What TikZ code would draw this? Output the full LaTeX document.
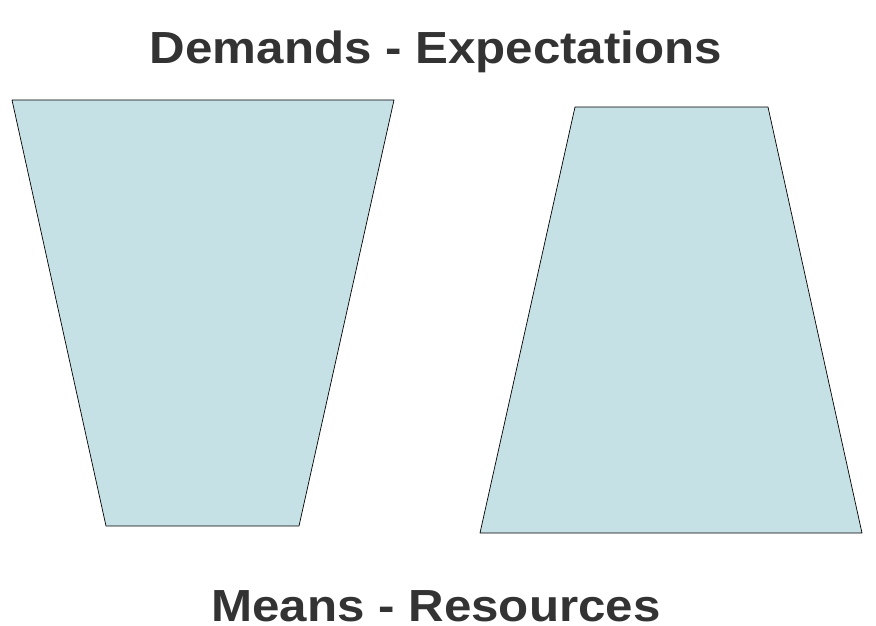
\documentclass[tikz,border=0pt]{standalone}
\usepackage{fontspec}
\setmainfont{Liberation Sans}
\usetikzlibrary{positioning}
\definecolor{cupfill}{HTML}{C5E1E5}
\definecolor{titlegray}{HTML}{333333}
\newcommand{\widetext}[1]{\scalebox{1.095}[1]{#1}}

\begin{document}
\begin{tikzpicture}[x=1pt,y=-1pt,
    cup/.style = {draw=black, line width=.7pt, fill=cupfill, line join=round},
    heading/.style = {font=\fontsize{45}{50}\selectfont\bfseries, text=titlegray, anchor=base, inner sep=0pt}]
  \useasboundingbox (0,0) rectangle (876,626);
  % headings
  \node[heading] (demands) at (436,64) {\widetext{Demands - Expectations}};
  \node[heading] (means) at (436,621) {\widetext{Means - Resources}};
  % left shape, wide at the top
  \draw[cup] (12,100) -- (394,100) -- (299,526) -- (106,526) -- cycle;
  % right shape, wide at the bottom
  \draw[cup] (575,107) -- (768,107) -- (862,533) -- (480,533) -- cycle;
\end{tikzpicture}
\end{document}
